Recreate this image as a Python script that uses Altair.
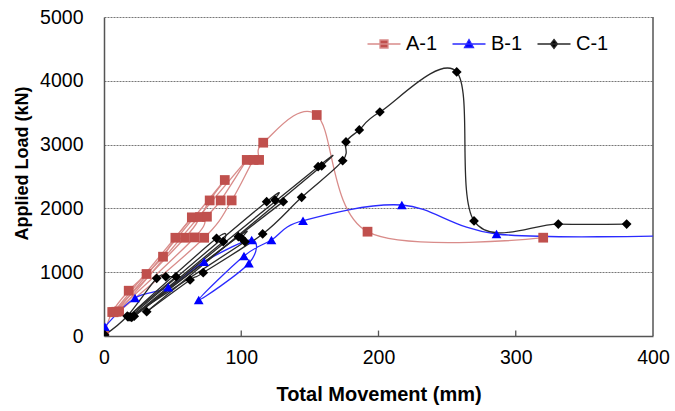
import altair as alt
import pandas as pd

# ---------------- data ----------------
series_names = ["A-1", "B-1", "C-1"]

a_x = [0, 6, 18, 31, 43, 52, 64, 7, 59, 70, 77, 88, 9, 66, 75, 85, 104, 11, 73, 93, 109, 113, 116, 155, 192, 320]
a_y = [0, 376, 710, 972, 1243, 1540, 1860, 372, 1540, 1865, 2125, 2445, 380, 1545, 1870, 2125, 2760, 385, 1540, 2125, 2760, 2760, 3030, 3464, 1635, 1541]
a_turns = [6, 7, 11, 12, 16, 17]          # load reversals (indices into a_x / a_y)

b_x = [0.7, 22.6, 46.8, 73, 107.6, 105.6, 69, 102, 122, 145, 217, 286, 410]
b_y = [146, 596, 763, 1165, 1505, 1140, 564, 1254, 1505, 1807, 2053, 1599, 1572]
b_turns = []

c_x = [0.5, 17, 38.4, 45, 52.5, 17.5, 82, 86.9, 20.2, 97.9, 100.3, 102.7, 19, 118.5, 124.6, 130.6, 22,
       156, 158.6, 31.1, 62.7, 72.3, 115.6, 144, 173.9, 176.3, 186, 201, 257, 269.6, 331, 380.8]
c_y = [16, 313, 904, 930, 930, 300, 1531, 1478, 293, 1556, 1531, 1478, 300, 2106, 2131, 2106, 310,
       2654, 2665, 381, 878, 992, 1599, 2174, 2748, 3041, 3229, 3511, 4138, 1803, 1755, 1755]
c_turns = [4, 5, 7, 8, 11, 12, 15, 16, 18, 19]

x_ticks = [0, 100, 200, 300, 400]
y_ticks = [0, 1000, 2000, 3000, 4000, 5000]
inner_ticks = [100, 200, 300]

marker_colors = ["#C0504D", "#0000FF", "#000000"]
line_colors = ["#D98C8A", "#2B2BFF", "#2A2A2A"]
marker_shapes = ["square", "triangle-up", "diamond"]
legend_paths = [
    "M-3.3,0H3.3M-0.8,-0.8H0.8V0.8H-0.8Z",
    "M-3.3,0H3.3M0,-0.9L0.9,0.7H-0.9Z",
    "M-3.3,0H3.3M0,-0.9L0.7,0L0,0.9L-0.7,0Z",
]

FONT = "Liberation Sans"

point_rows, line_rows = [], []
for name, xs_, ys_, turns in [("A-1", a_x, a_y, a_turns), ("B-1", b_x, b_y, b_turns), ("C-1", c_x, c_y, c_turns)]:
    seg = 0
    for i, (x, y) in enumerate(zip(xs_, ys_)):
        point_rows.append({"series": name, "x": x, "y": y})
        line_rows.append({"series": name, "seg": f"{name}-{seg}", "x": x, "y": y, "idx": i})
        if i in turns:
            seg += 1
            line_rows.append({"series": name, "seg": f"{name}-{seg}", "x": x, "y": y, "idx": i})
pts = pd.DataFrame(point_rows)
lns = pd.DataFrame(line_rows)

xs = alt.Scale(domain=[0, 400], nice=False, zero=False)
ys = alt.Scale(domain=[0, 5000], nice=False)

x_enc = alt.X("x:Q", scale=xs, axis=alt.Axis(
    values=x_ticks, title="Total Movement (mm)", grid=False, ticks=False, format="d",
    labelFontSize=19.5, labelFont=FONT, labelColor="#000", labelPadding=12,
    titleFontSize=20, titleFont=FONT, titleFontWeight="bold", titleColor="#000", titlePadding=18,
    domainColor="#555", domainWidth=1.5, labelFlush=False))
y_enc = alt.Y("y:Q", scale=ys, axis=alt.Axis(
    values=y_ticks, title="Applied Load (kN)", grid=True, ticks=False, format="d",
    gridColor="#777", gridDash=[2, 1], gridWidth=1,
    labelFontSize=19.5, labelFont=FONT, labelColor="#000", labelPadding=21,
    titleFontSize=18, titleFont=FONT, titleFontWeight="bold", titleColor="#000",
    titleX=-73, titleY=146,
    domainColor="#555", domainWidth=1.5))

lines = alt.Chart(lns).mark_line(interpolate="cardinal", strokeWidth=1.3, clip=True).encode(
    x=x_enc, y=y_enc,
    stroke=alt.Stroke("series:N", scale=alt.Scale(domain=series_names, range=line_colors), legend=None),
    detail="seg:N",
    order="idx:Q",
)

points = alt.Chart(pts).mark_point(filled=True, opacity=1, size=95, clip=True).encode(
    x=alt.X("x:Q", scale=xs), y=alt.Y("y:Q", scale=ys),
    fill=alt.Fill("series:N", scale=alt.Scale(domain=series_names, range=marker_colors), legend=None),
    shape=alt.Shape("series:N", scale=alt.Scale(domain=series_names, range=marker_shapes), legend=None),
)

leg = alt.Legend(orient="none", legendX=270, legendY=17, direction="horizontal", columns=3,
                 title=None, symbolSize=100, symbolStrokeWidth=1.3, labelFontSize=20,
                 labelFont=FONT, labelColor="#000", labelOffset=12, columnPadding=11)

legend_layer = alt.Chart(pts).transform_filter("datum.x < -1000").mark_point(filled=True, opacity=1).encode(
    x=alt.X("x:Q", scale=xs), y=alt.Y("y:Q", scale=ys),
    fill=alt.Fill("series:N", scale=alt.Scale(domain=series_names, range=marker_colors), legend=leg),
    stroke=alt.Stroke("series:N", scale=alt.Scale(domain=series_names, range=line_colors), legend=leg),
    shape=alt.Shape("series:N", scale=alt.Scale(domain=series_names, range=legend_paths), legend=leg),
)

tick_df = pd.DataFrame({"t": inner_ticks})
tick_rules = alt.Chart(tick_df).mark_rule(color="#555", strokeWidth=1.3).encode(
    x=alt.X("t:Q", scale=xs), y=alt.datum(0, scale=ys), y2=alt.datum(85))

right_border = alt.Chart(pd.DataFrame({"r": [400]})).mark_rule(color="#555", strokeWidth=1.5).encode(
    x=alt.X("r:Q", scale=xs), y=alt.datum(0), y2=alt.datum(5000))

chart = alt.layer(tick_rules, right_border, lines, points, legend_layer).resolve_scale(
    fill="independent", stroke="independent", shape="independent"
).properties(
    width=549, height=319,
    autosize=alt.AutoSizeParams(type="none"),
    padding={"left": 104, "top": 17, "right": 22, "bottom": 75},
    background="white",
).configure_view(stroke=None)

chart.save("out.html", embed_options={"renderer": "svg", "actions": False})
